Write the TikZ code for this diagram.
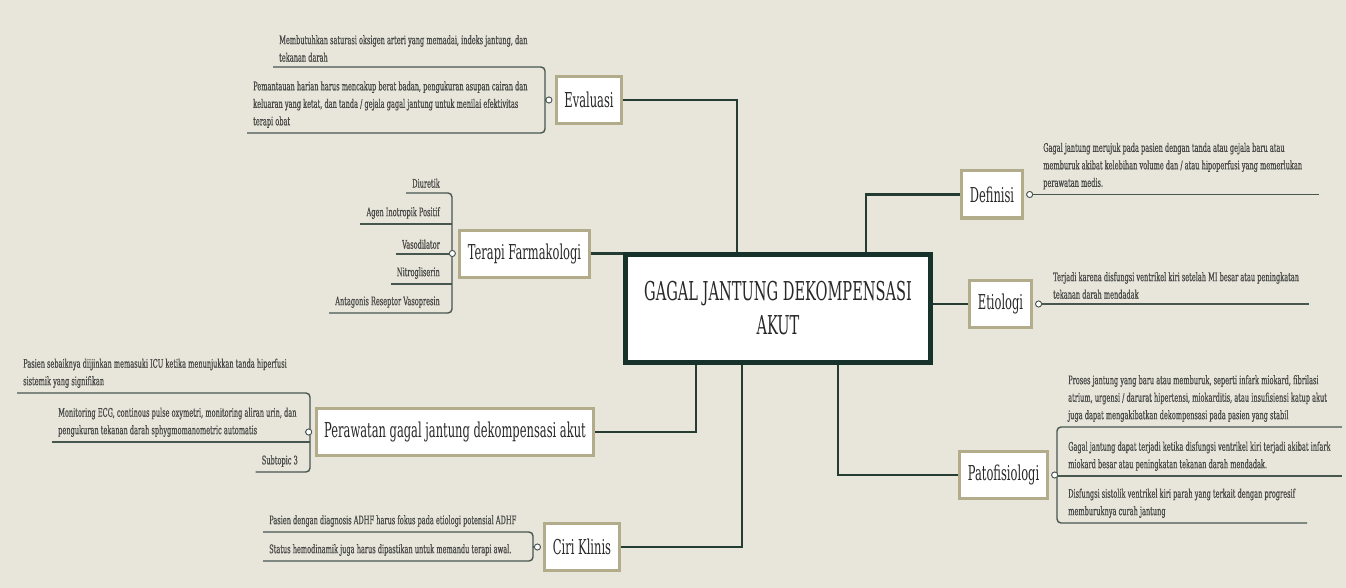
\documentclass[tikz,border=0pt]{standalone}
\usepackage{fontspec}
\setmainfont[FakeStretch=0.56]{DejaVu Serif}
\newfontfamily\leaffont[FakeStretch=0.56,FakeBold=0.5]{DejaVu Serif}

\definecolor{paper}{RGB}{232,230,218}
\definecolor{rootline}{RGB}{22,50,43}
\definecolor{branchline}{RGB}{36,60,50}
\definecolor{twigline}{RGB}{72,86,80}
\definecolor{topicedge}{RGB}{178,172,138}
\definecolor{ink}{RGB}{40,40,40}

\begin{document}
\begin{tikzpicture}[
    x=1pt, y=-1pt,
    root/.style={draw=rootline, line width=5pt, fill=white, minimum width=305pt,
        minimum height=108pt, align=center, text=ink,
        font=\fontsize{26}{34}\selectfont},
    topic/.style={draw=topicedge, line width=3pt, fill=white, minimum height=47pt,
        inner xsep=8pt, text=ink, font=\fontsize{20.5}{24}\selectfont},
    leaf/.style={inner xsep=6pt, inner ysep=5pt, align=left, text=ink!85,
        font=\leaffont\fontsize{11.8}{17.5}\selectfont},
    leafr/.style={leaf, align=right},
    knob/.style={circle, draw=twigline, fill=white, line width=0.8pt,
        minimum size=6pt, inner sep=0pt},
    branch/.style={draw=branchline, line width=2.2pt},
    twig/.style={draw=twigline, line width=1.4pt, rounded corners=4pt}
]
\fill[paper] (0,0) rectangle (1346,588);
\useasboundingbox (0,0) rectangle (1346,588);

% ======================
% Central topic
% ======================
\node[root] (C) at (778,308.5) {GAGAL JANTUNG DEKOMPENSASI\\AKUT};

% ======================
% Main topics
% ======================
\node[topic] (ev) at (589,100)    {Evaluasi};
\node[topic] (tf) at (524.5,253.5) {Terapi Farmakologi};
\node[topic] (pw) at (455,432)    {Perawatan gagal jantung dekompensasi akut};
\node[topic] (ck) at (582,547)    {Ciri Klinis};
\node[topic] (df) at (992,194.5)  {Definisi};
\node[topic] (et) at (1000.5,304) {Etiologi};
\node[topic] (pf) at (1003.5,475) {Patofisiologi};

% Branches to the centre
\draw[branch] (ev.east) -| ([xshift=114pt]C.north west);
\draw[branch] (tf.east) -- (tf.east -| C.west);
\draw[branch] (pw.east) -| ([xshift=73pt]C.south west);
\draw[branch] (ck.east) -| ([xshift=119pt]C.south west);
\draw[branch] (df.west) -| ([xshift=-67pt]C.north east);
\draw[branch] (et.west) -- (et.west -| C.east);
\draw[branch] (pf.west) -| ([xshift=-95pt]C.south east);

% Knobs on the topics
\node[knob] (evk) at ([xshift=-6pt]ev.west) {};
\node[knob] (tfk) at ([xshift=-6pt]tf.west) {};
\node[knob] (pwk) at ([xshift=-6pt]pw.west) {};
\node[knob] (ckk) at ([xshift=-6pt]ck.west) {};
\node[knob] (dfk) at ([xshift=6pt]df.east) {};
\node[knob] (etk) at ([xshift=6pt]et.east) {};
\node[knob] (pfk) at ([xshift=6pt]pf.east) {};

% ======================
% Evaluasi
% ======================
\coordinate (evx) at (545,100);
\node[leaf, anchor=south west] (ev1) at (273,67)
    {Membutuhkan saturasi oksigen arteri yang memadai, indeks jantung, dan\\tekanan darah};
\node[leaf, anchor=south west] (ev2) at (247,133)
    {Pemantauan harian harus mencakup berat badan, pengukuran asupan cairan dan\\keluaran yang ketat, dan tanda / gejala gagal jantung untuk menilai efektivitas\\terapi obat};
\draw[twig] (ev1.south west) -- (ev1.south west -| evx) -- (ev2.south west -| evx) -- (ev2.south west);
\draw[twig] (evk.west) -- (evk.west -| evx);

% ======================
% Terapi Farmakologi
% ======================
\coordinate (tfx) at (452,253);
\node[leafr, anchor=south east] (tf1) at (446,193) {Diuretik};
\node[leafr, anchor=south east] (tf2) at (446,224) {Agen Inotropik Positif};
\node[leafr, anchor=south east] (tf3) at (446,254) {Vasodilator};
\node[leafr, anchor=south east] (tf4) at (446,284) {Nitrogliserin};
\node[leafr, anchor=south east] (tf5) at (446,313) {Antagonis Reseptor Vasopresin};
\draw[twig] (tf1.south west) -- (tf1.south west -| tfx) -- (tf5.south west -| tfx) -- (tf5.south west);
\foreach \n in {tf2,tf3,tf4} {
    \draw[twig] (\n.south west) -- (\n.south west -| tfx);
}
\draw[twig] (tfk.west) -- (tfk.west -| tfx);

% ======================
% Perawatan
% ======================
\coordinate (pwx) at (310,432);
\node[leaf, anchor=south west] (pw1) at (17,393)
    {Pasien sebaiknya diijinkan memasuki ICU ketika menunjukkan tanda hiperfusi\\sistemik yang signifikan};
\node[leaf, anchor=south west] (pw2) at (52,442)
    {Monitoring ECG, continous pulse oxymetri, monitoring aliran urin, dan\\pengukuran tekanan darah sphygmomanometric automatis};
\node[leafr, anchor=south east] (pw3) at (304,472) {Subtopic 3};
\draw[twig] (pw1.south west) -- (pw1.south west -| pwx) -- (pw3.south west -| pwx) -- (pw3.south west);
\draw[twig] (pw2.south west) -- (pw2.south west -| pwx);
\draw[twig] (pwk.west) -- (pwk.west -| pwx);

% ======================
% Ciri Klinis
% ======================
\coordinate (ckx) at (533,547);
\node[leaf, anchor=south west] (ck1) at (263,532)
    {Pasien dengan diagnosis ADHF harus fokus pada etiologi potensial ADHF};
\node[leaf, anchor=south west] (ck2) at (263,561)
    {Status hemodinamik juga harus dipastikan untuk memandu terapi awal.};
\draw[twig] (ck1.south west) -- (ck1.south west -| ckx) -- (ck2.south west -| ckx) -- (ck2.south west);
\draw[twig] (ckk.west) -- (ckk.west -| ckx);

% ======================
% Definisi / Etiologi
% ======================
\coordinate (dfend) at (1319,194);
\node[leaf, anchor=south west] (df1) at ([xshift=4pt]dfk.east)
    {Gagal jantung merujuk pada pasien dengan tanda atau gejala baru atau\\memburuk akibat kelebihan volume dan / atau hipoperfusi yang memerlukan\\perawatan medis.};
\draw[twig] (dfk.east) -- (dfk.east -| dfend);

\coordinate (etend) at (1309,304);
\node[leaf, anchor=south west] (et1) at ([xshift=5pt]etk.east)
    {Terjadi karena disfungsi ventrikel kiri setelah MI besar atau peningkatan\\tekanan darah mendadak};
\draw[twig] (etk.east) -- (etk.east -| etend);

% ======================
% Patofisiologi
% ======================
\coordinate (pfx) at (1057,475);
\coordinate (pfend) at (1342,475);
\coordinate (pf3end) at (1307,523);
\node[leaf, anchor=south west] (pf1) at (1062,427)
    {Proses jantung yang baru atau memburuk, seperti infark miokard, fibrilasi\\atrium, urgensi / darurat hipertensi, miokarditis, atau insufisiensi katup akut\\juga dapat mengakibatkan dekompensasi pada pasien yang stabil};
\node[leaf, anchor=south west] (pf2) at (1062,476)
    {Gagal jantung dapat terjadi ketika disfungsi ventrikel kiri terjadi akibat infark\\miokard besar atau peningkatan tekanan darah mendadak.};
\node[leaf, anchor=south west] (pf3) at (1062,523)
    {Disfungsi sistolik ventrikel kiri parah yang terkait dengan progresif\\memburuknya curah jantung};
\draw[twig] (pf1.south west -| pfend) -- (pf1.south west -| pfx) -- (pf3.south west -| pfx) -- (pf3.south west -| pf3end);
\draw[twig] (pf2.south west -| pfx) -- (pf2.south west -| pfend);
\draw[twig] (pfk.east) -- (pfk.east -| pfx);

% knobs drawn again on top of their twigs
\foreach \k in {evk,tfk,pwk,ckk,dfk,etk,pfk} {
    \node[knob] at (\k) {};
}
\end{tikzpicture}
\end{document}
